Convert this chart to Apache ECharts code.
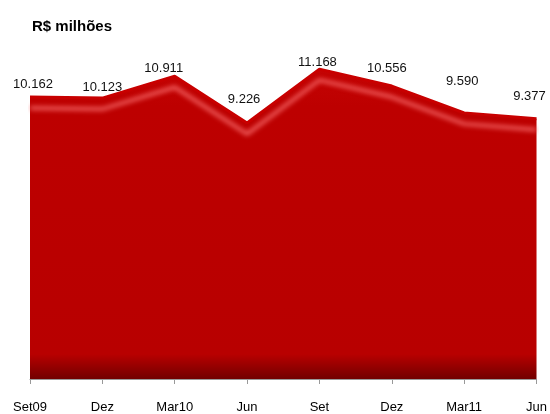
<!DOCTYPE html>
<html><head><meta charset="utf-8">
<script src="https://cdn.jsdelivr.net/npm/echarts@6/dist/echarts.min.js"></script>
<style>html,body{margin:0;padding:0;background:#fff}#c{width:550px;height:414px}</style>
</head><body><div id="c"></div>
<script>
var categories = ['Set09','Dez','Mar10','Jun','Set','Dez','Mar11','Jun'];
var values = [10162, 10123, 10911, 9226, 11168, 10556, 9590, 9377];
var titleText = 'R$ milhões';

// label placement tweaks (styling only, px)
var labelLift = [6, 4, 1, 17, 0, 11, 24, 15];
var labelShift = [3, 0, -11, -3, -2, -5, -2, -7];

function fmt(v){ var s = String(v); return s.slice(0, s.length-3) + '.' + s.slice(-3); }

var seriesData = values.map(function(v, i){
  return { value: v, label: { distance: labelLift[i], offset: [labelShift[i], 0] } };
});

var chart = echarts.init(document.getElementById('c'));
chart.setOption({
  animation: false,
  backgroundColor: '#fff',
  title: { text: titleText, left: 27, top: 14, textStyle: { fontFamily: 'Liberation Sans, Arial', fontSize: 15, fontWeight: 'bold', color: '#000' } },
  grid: { left: 30, right: 13, top: 46, bottom: 34 },
  xAxis: {
    type: 'category', data: categories, boundaryGap: false,
    axisLine: { lineStyle: { color: '#999', width: 1 } },
    axisTick: { show: true, length: 5, lineStyle: { color: '#999' } },
    axisLabel: { margin: 22, color: '#000', fontFamily: 'Liberation Sans, Arial', fontSize: 13 }
  },
  yAxis: { type: 'value', min: 0, max: 12000, show: false, splitLine: { show: false } },
  series: [{
    type: 'line', data: seriesData, symbol: 'circle', symbolSize: 1, showSymbol: true, z: 2,
    itemStyle: { color: 'rgba(0,0,0,0)' },
    lineStyle: { color: '#c80000', width: 3, shadowColor: 'rgba(255,120,120,1)', shadowBlur: 5, shadowOffsetY: 11 },
    areaStyle: {
      color: { type: 'linear', x: 0, y: 0, x2: 0, y2: 1, colorStops: [
        { offset: 0, color: '#c40404' }, { offset: 0.12, color: '#bd0000' },
        { offset: 0.92, color: '#b80000' }, { offset: 1, color: '#720000' } ] },
      opacity: 1
    },
    label: { show: true, position: 'top', color: '#111', fontFamily: 'Liberation Sans, Arial', fontSize: 13,
      formatter: function(p){ return fmt(p.value); } }
  }]
});
</script></body></html>
